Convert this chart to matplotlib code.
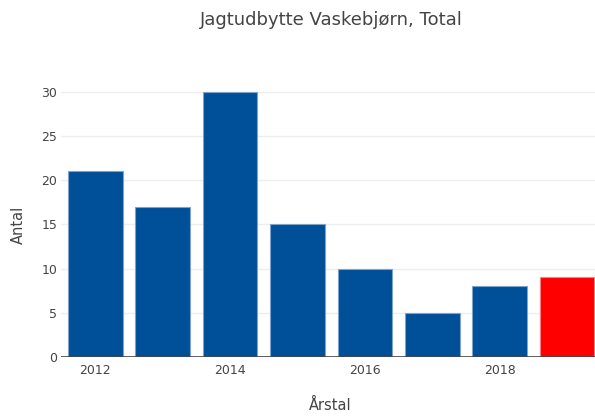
import matplotlib
matplotlib.use("Agg")
from matplotlib import pyplot as plt

years = [2012, 2013, 2014, 2015, 2016, 2017, 2018, 2019]
antal = [21, 17, 30, 15, 10, 5, 8, 9]
farver = ['#004f99'] * 7 + ['#ff0000']
kanter = ['#7fa3cc'] * 7 + ['#ff7f7f']

plt.rcParams['font.family'] = ['DejaVu Sans']

fig = plt.figure(figsize=(5.95, 4.17), dpi=100)
ax = fig.add_axes([61.5 / 595, 60 / 417, (595 - 61.5) / 595, 279 / 417])

ax.bar(years, antal, width=0.81, color=farver, edgecolor=kanter, linewidth=0.8, zorder=3)

ax.set_xlim(2011.5, 2019.415)
ax.set_ylim(0, 31.58)
ax.set_xticks([2012, 2014, 2016, 2018])
ax.set_yticks([0, 5, 10, 15, 20, 25, 30])
ax.grid(axis='y', color='#eeeeee', linewidth=1, zorder=0)
ax.axhline(0, color='#444444', linewidth=1.2, zorder=4)
for s in ax.spines.values():
    s.set_visible(False)
ax.tick_params(length=0, labelsize=9, labelcolor='#444444')
ax.tick_params(axis='x', pad=5)
ax.tick_params(axis='y', pad=3)

# akse-titler placeret som i plotly-layoutet
fig.text(330 / 595, 1 - 405 / 417, 'Årstal', ha='center', va='center',
         fontsize=10.5, color='#444444')
fig.text(18 / 595, 1 - 225 / 417, 'Antal', ha='center', va='center',
         rotation=90, fontsize=10.5, color='#444444')
fig.text(331 / 595, 1 - 20 / 417, 'Jagtudbytte Vaskebjørn, Total', ha='center', va='center',
         fontsize=13, color='#444444')

fig.savefig('out.png', dpi=100)
